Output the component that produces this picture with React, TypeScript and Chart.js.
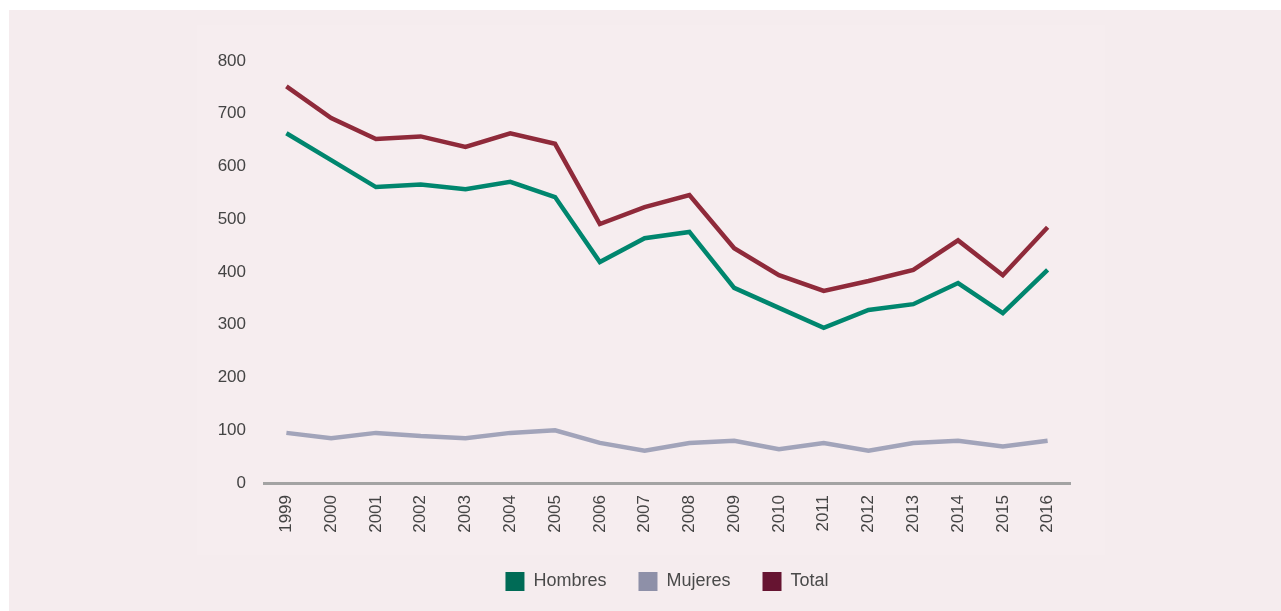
import React, { useEffect, useRef } from "react";
import { Chart, registerables } from "chart.js";

Chart.register(...registerables);

const years = ["1999","2000","2001","2002","2003","2004","2005","2006","2007","2008","2009","2010","2011","2012","2013","2014","2015","2016"];
const hombres = [663, 612, 561, 566, 557, 571, 542, 419, 464, 476, 370, 332, 294, 328, 339, 379, 322, 404];
const mujeres = [95, 85, 95, 89, 85, 95, 100, 76, 61, 76, 80, 64, 76, 61, 76, 80, 69, 80];
const total = [752, 692, 652, 657, 637, 663, 643, 491, 523, 546, 445, 394, 364, 383, 404, 460, 394, 485];
const yTicks = [0, 100, 200, 300, 400, 500, 600, 700, 800];

const bgPlugin = {
  id: "bgPlugin",
  beforeDraw(chart: any) {
    const ctx = chart.ctx;
    ctx.save();
    ctx.fillStyle = "#ffffff";
    ctx.fillRect(0, 0, chart.width, chart.height);
    ctx.fillStyle = "#f5ecee";
    ctx.fillRect(9, 10, chart.width - 9, chart.height - 10);
    ctx.fillStyle = "#f6edef";
    ctx.fillRect(197, 25, 908, 530);
    ctx.restore();
  },
};

export default function App() {
  const ref = useRef<HTMLCanvasElement>(null);
  useEffect(() => {
    if (!ref.current) return;
    const chart = new Chart(ref.current, {
      type: "line",
      data: {
        labels: years,
        datasets: [
          { label: "Hombres", data: hombres, borderColor: "#00866e", backgroundColor: "#006b56", borderWidth: 4.5, pointRadius: 0, tension: 0 },
          { label: "Mujeres", data: mujeres, borderColor: "#a2a4ba", backgroundColor: "#8e90a8", borderWidth: 4.5, pointRadius: 0, tension: 0 },
          { label: "Total", data: total, borderColor: "#8f2a3a", backgroundColor: "#661431", borderWidth: 4.5, pointRadius: 0, tension: 0 },
        ],
      },
      options: {
        responsive: false,
        animation: false,
        layout: { padding: { left: 204, right: 211, top: 61, bottom: 10 } },
        plugins: {
          legend: {
            position: "bottom",
            fullSize: false,
            labels: {
              boxWidth: 19,
              boxHeight: 19,
              padding: 32,
              color: "#4a4a4a",
              font: { family: "Liberation Sans, Arial, sans-serif", size: 18 },
              generateLabels(chart: any) {
                return chart.data.datasets.map((d: any, i: number) => ({
                  text: d.label,
                  fillStyle: d.backgroundColor,
                  strokeStyle: d.backgroundColor,
                  lineWidth: 0,
                  hidden: false,
                  datasetIndex: i,
                  fontColor: "#4a4a4a",
                }));
              },
            },
          },
          tooltip: { enabled: false },
        },
        scales: {
          x: {
            offset: true,
            grid: { display: false, drawTicks: false },
            border: { display: true, color: "#a3a3a3", width: 3 },
            ticks: {
              maxRotation: 90,
              minRotation: 90,
              padding: 12,
              color: "#444444",
              font: { family: "Liberation Sans, Arial, sans-serif", size: 17 },
            },
            afterFit(scale: any) { scale.height = 57; },
          },
          y: {
            min: 0,
            max: 800,
            grid: { display: false, drawTicks: false },
            border: { display: false },
            afterBuildTicks(scale: any) { scale.ticks = yTicks.map((v) => ({ value: v })); },
            ticks: {
              padding: 18,
              color: "#444444",
              font: { family: "Liberation Sans, Arial, sans-serif", size: 17 },
            },
            afterFit(scale: any) { scale.width = 60; },
          },
        },
      },
      plugins: [bgPlugin],
    });
    return () => chart.destroy();
  }, []);
  return (
    <div style={{ position: "absolute", left: 0, top: 0, width: 1281, height: 611 }}>
      <canvas ref={ref} width={1281} height={611} style={{ display: "block" }} />
    </div>
  );
}
